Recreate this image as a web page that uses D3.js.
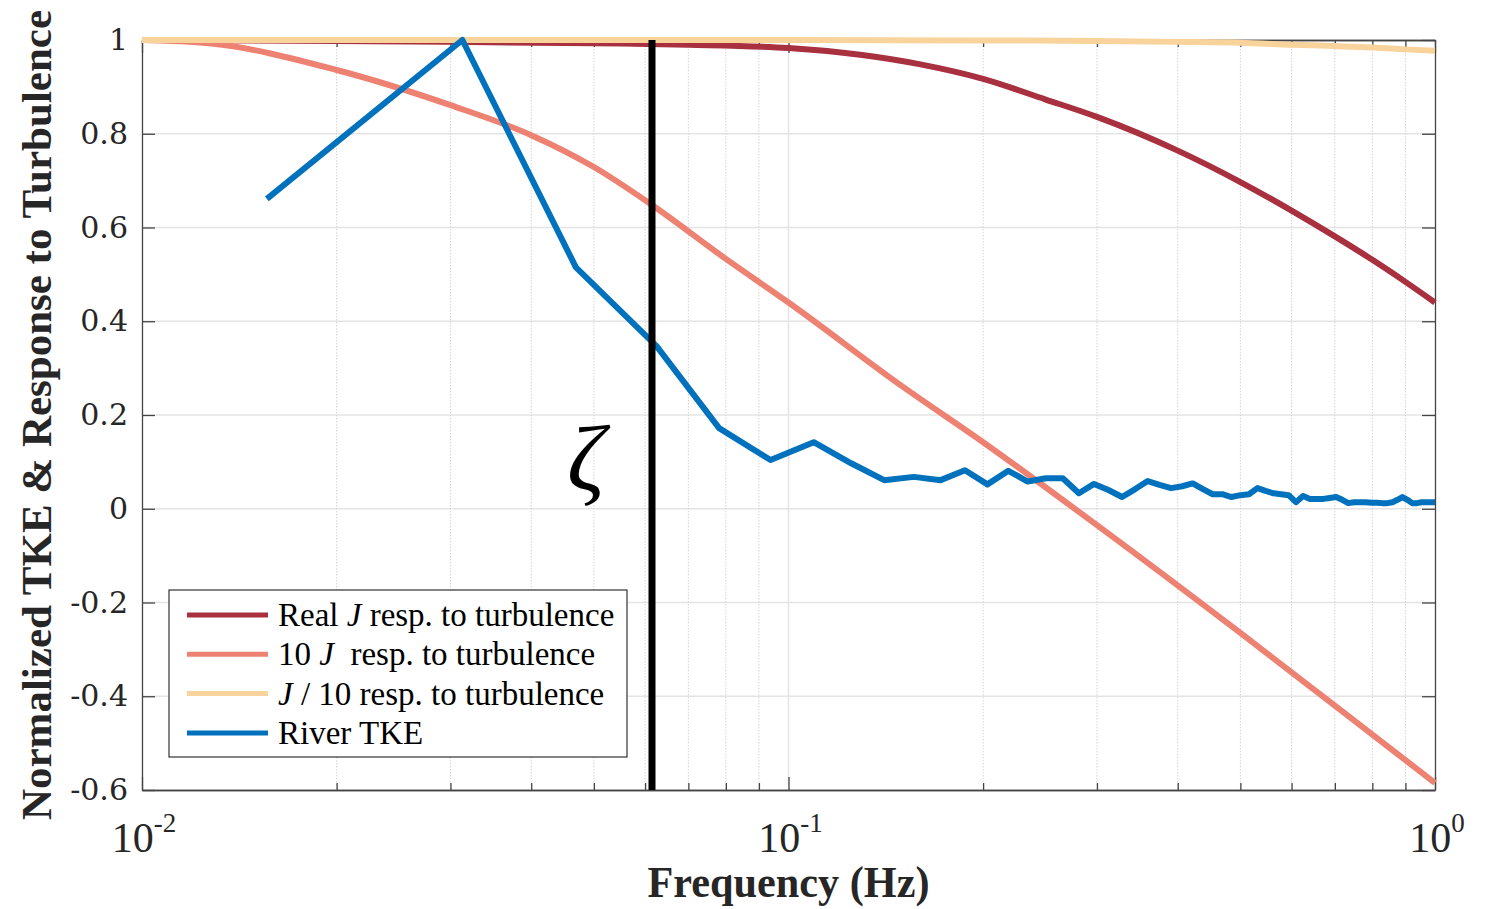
<!DOCTYPE html>
<html>
<head>
<meta charset="utf-8">
<script src="https://cdn.jsdelivr.net/npm/d3@7"></script>
<style>
  body { margin: 0; background: #fff; }
  svg { display: block; }
</style>
</head>
<body>
<div id="chart"></div>
<script>
const WIDTH = 1485;
const HEIGHT = 909;

const LEFT = 142, RIGHT = 1435, TOP = 40, BOTTOM = 790;

// Real J response
const realJFreq = [0.01, 0.02, 0.03, 0.05, 0.07, 0.1, 0.13, 0.16, 0.2, 0.25, 0.3, 0.4, 0.5, 0.6, 0.7, 0.8, 0.9, 1.0];
const realJVal  = [1.0, 0.998, 0.996, 0.993, 0.99, 0.983, 0.968, 0.948, 0.917, 0.873, 0.836, 0.764, 0.697, 0.636, 0.581, 0.531, 0.484, 0.44];

// 10 J response
const tenJFreq = [0.01, 0.0127, 0.02, 0.03, 0.04, 0.05, 0.0615, 0.08, 0.1, 0.15, 0.2, 0.3, 0.5, 0.7, 1.0];
const tenJVal  = [1.0, 0.993, 0.936, 0.861, 0.797, 0.729, 0.648, 0.533, 0.44, 0.261, 0.142, -0.035, -0.265, -0.42, -0.585];

// J / 10 response
const tenthJFreq = [0.01, 0.1, 0.2, 0.3, 0.4, 0.5, 0.6, 0.7, 0.8, 0.9, 1.0];
const tenthJVal  = [1.0, 1.0, 0.999, 0.998, 0.996, 0.994, 0.99, 0.987, 0.984, 0.98, 0.977];

// River TKE
const tkeFreq = [0.0156, 0.0313, 0.0469, 0.0625, 0.0781, 0.0938, 0.1094, 0.125, 0.1406, 0.1563,
  0.1719, 0.1875, 0.2031, 0.2188, 0.2344, 0.25, 0.2656, 0.2813, 0.2969, 0.3125,
  0.3281, 0.3438, 0.3594, 0.375, 0.3906, 0.4063, 0.4219, 0.4375, 0.4531, 0.4688,
  0.4844, 0.5, 0.5156, 0.5313, 0.5469, 0.5625, 0.5781, 0.5938, 0.6094, 0.625,
  0.6406, 0.6563, 0.6719, 0.6875, 0.7031, 0.7188, 0.7344, 0.75, 0.7656, 0.7813,
  0.7969, 0.8125, 0.8281, 0.8438, 0.8594, 0.875, 0.8906, 0.9063, 0.9219, 0.9375,
  0.9531, 0.9688, 0.9844, 1.0];
const tkeVal = [0.661, 1.0, 0.515, 0.347, 0.172, 0.104, 0.142, 0.097, 0.061, 0.068,
  0.061, 0.082, 0.052, 0.081, 0.058, 0.065, 0.065, 0.033, 0.053, 0.040,
  0.025, 0.042, 0.059, 0.051, 0.044, 0.048, 0.054, 0.042, 0.031, 0.031,
  0.025, 0.029, 0.031, 0.044, 0.038, 0.033, 0.031, 0.029, 0.014, 0.027,
  0.021, 0.021, 0.021, 0.023, 0.025, 0.019, 0.012, 0.014, 0.014, 0.014,
  0.013, 0.013, 0.012, 0.012, 0.014, 0.019, 0.025, 0.019, 0.012, 0.012,
  0.014, 0.014, 0.014, 0.014];

const zetaFreq = 0.0615;

const yTicks = [-0.6, -0.4, -0.2, 0, 0.2, 0.4, 0.6, 0.8, 1];
const xMajor = [0.01, 0.1, 1];
const xMajorExp = ['-2', '-1', '0'];
const xMinor = [0.02, 0.03, 0.04, 0.05, 0.06, 0.07, 0.08, 0.09, 0.2, 0.3, 0.4, 0.5, 0.6, 0.7, 0.8, 0.9];

const seriesNames = ['Real', '10', '', 'River TKE'];
const colors = ['#a8303f', '#ee8272', '#f8d49c', '#0072bd'];

const svg = d3.select('#chart').append('svg')
  .attr('width', WIDTH)
  .attr('height', HEIGHT);

const x = d3.scaleLog().domain([0.01, 1]).range([LEFT, RIGHT]);
const y = d3.scaleLinear().domain([-0.6, 1]).range([BOTTOM, TOP]);

// grid
const grid = svg.append('g').attr('id', 'grid');
grid.selectAll('.hg').data(yTicks.slice(1, -1)).enter().append('line')
  .attr('x1', LEFT).attr('x2', RIGHT)
  .attr('y1', d => y(d)).attr('y2', d => y(d))
  .attr('stroke', '#e4e4e4').attr('stroke-width', 1.5);
grid.selectAll('.vg').data([0.1]).enter().append('line')
  .attr('x1', d => x(d)).attr('x2', d => x(d))
  .attr('y1', TOP).attr('y2', BOTTOM)
  .attr('stroke', '#e4e4e4').attr('stroke-width', 1.5);
grid.selectAll('.mg').data(xMinor).enter().append('line')
  .attr('x1', d => x(d)).attr('x2', d => x(d))
  .attr('y1', TOP).attr('y2', BOTTOM)
  .attr('stroke', '#d4d4d4').attr('stroke-width', 1)
  .attr('stroke-dasharray', '1.5,1.5');

// axes
const axisColor = '#444';
const axes = svg.append('g').attr('id', 'axes');

const yLeft = axes.append('g').attr('transform', `translate(${LEFT},0)`)
  .call(d3.axisLeft(y).tickValues(yTicks).tickSizeInner(-13).tickSizeOuter(0).tickPadding(14)
    .tickFormat(d => String(+d.toFixed(1))));
axes.append('g').attr('transform', `translate(${RIGHT},0)`)
  .call(d3.axisRight(y).tickValues(yTicks).tickSizeInner(-13).tickSizeOuter(0).tickFormat(''));
axes.append('g').attr('transform', `translate(0,${BOTTOM})`)
  .call(d3.axisBottom(x).tickValues(xMajor).tickSizeInner(-13).tickSizeOuter(0).tickFormat(''));
axes.append('g').attr('transform', `translate(0,${BOTTOM})`)
  .call(d3.axisBottom(x).tickValues(xMinor).tickSizeInner(-7).tickSizeOuter(0).tickFormat(''));
axes.append('g').attr('transform', `translate(0,${TOP})`)
  .call(d3.axisTop(x).tickValues(xMajor).tickSizeInner(-13).tickSizeOuter(0).tickFormat(''));
axes.append('g').attr('transform', `translate(0,${TOP})`)
  .call(d3.axisTop(x).tickValues(xMinor).tickSizeInner(-7).tickSizeOuter(0).tickFormat(''));

axes.selectAll('.domain').attr('stroke', axisColor).attr('stroke-width', 1.3);
axes.selectAll('.tick line').attr('stroke', axisColor).attr('stroke-width', 1.3);
yLeft.selectAll('text')
  .attr('font-family', 'DejaVu Serif')
  .attr('font-size', 30)
  .attr('fill', '#262626');

// x tick labels with superscripts
const xLab = axes.append('g');
xMajor.forEach((v, i) => {
  const t = xLab.append('text')
    .attr('x', x(v) + 2).attr('y', 852)
    .attr('text-anchor', 'middle')
    .attr('font-family', 'Liberation Serif')
    .attr('fill', '#262626');
  t.append('tspan').attr('font-size', 42).text('10');
  t.append('tspan').attr('font-size', 27).attr('dy', -20).text(xMajorExp[i]);
});

// axis titles
svg.append('text')
  .attr('x', (LEFT + RIGHT) / 2).attr('y', 897)
  .attr('text-anchor', 'middle')
  .attr('font-family', 'Liberation Serif')
  .attr('font-weight', 'bold')
  .attr('font-size', 44)
  .attr('textLength', 282).attr('lengthAdjust', 'spacingAndGlyphs')
  .attr('fill', '#262626')
  .text('Frequency (Hz)');

svg.append('text')
  .attr('transform', `translate(51,${415}) rotate(-90)`)
  .attr('text-anchor', 'middle')
  .attr('font-family', 'Liberation Serif')
  .attr('font-weight', 'bold')
  .attr('font-size', 43)
  .attr('textLength', 810).attr('lengthAdjust', 'spacingAndGlyphs')
  .attr('fill', '#262626')
  .text('Normalized TKE & Response to Turbulence');

// curves
const line = d3.line()
  .x(d => x(d[0]))
  .y(d => y(d[1]));
const smooth = d3.line()
  .x(d => x(d[0]))
  .y(d => y(d[1]))
  .curve(d3.curveMonotoneX);

const curves = svg.append('g').attr('id', 'curves');
const series = [
  [realJFreq, realJVal, smooth],
  [tenJFreq, tenJVal, smooth],
  [tenthJFreq, tenthJVal, smooth],
  [tkeFreq, tkeVal, line]
];
series.forEach((s, i) => {
  curves.append('path')
    .datum(d3.zip(s[0], s[1]))
    .attr('d', s[2])
    .attr('fill', 'none')
    .attr('stroke', colors[i])
    .attr('stroke-width', 6)
    .attr('stroke-linejoin', 'round');
});

// vertical zeta line
svg.append('line')
  .attr('x1', x(zetaFreq)).attr('x2', x(zetaFreq))
  .attr('y1', y(1)).attr('y2', y(-0.6))
  .attr('stroke', '#000').attr('stroke-width', 7);

svg.append('text')
  .attr('x', x(zetaFreq) - 66).attr('y', 490)
  .attr('text-anchor', 'middle')
  .attr('font-family', 'Liberation Serif')
  .attr('font-style', 'italic')
  .attr('font-size', 94)
  .attr('fill', '#000')
  .text('ζ');

// legend
const legend = svg.append('g').attr('id', 'legend');
legend.append('rect')
  .attr('x', 169).attr('y', 590)
  .attr('width', 458).attr('height', 167)
  .attr('fill', '#fff')
  .attr('stroke', '#333').attr('stroke-width', 1.2);

const rowY = d => 615 + d * 39.3;
[0, 1, 2, 3].forEach(i => {
  legend.append('line')
    .attr('x1', 187).attr('x2', 268)
    .attr('y1', rowY(i)).attr('y2', rowY(i))
    .attr('stroke', colors[i]).attr('stroke-width', 5);
});

const lt = (i) => legend.append('text')
  .attr('x', 278).attr('y', rowY(i) + 11)
  .attr('font-family', 'Liberation Serif')
  .attr('font-size', 33)
  .attr('fill', '#000')
  .attr('xml:space', 'preserve');

let t0 = lt(0);
t0.append('tspan').text(seriesNames[0] + ' ');
t0.append('tspan').attr('font-style', 'italic').text('J');
t0.append('tspan').text(' resp. to turbulence');

let t1 = lt(1);
t1.append('tspan').text(seriesNames[1] + ' ');
t1.append('tspan').attr('font-style', 'italic').text('J');
t1.append('tspan').text('  resp. to turbulence');

let t2 = lt(2);
t2.append('tspan').attr('font-style', 'italic').text('J');
t2.append('tspan').text(' / 10 resp. to turbulence');

lt(3).text(seriesNames[3]);
</script>
</body>
</html>
